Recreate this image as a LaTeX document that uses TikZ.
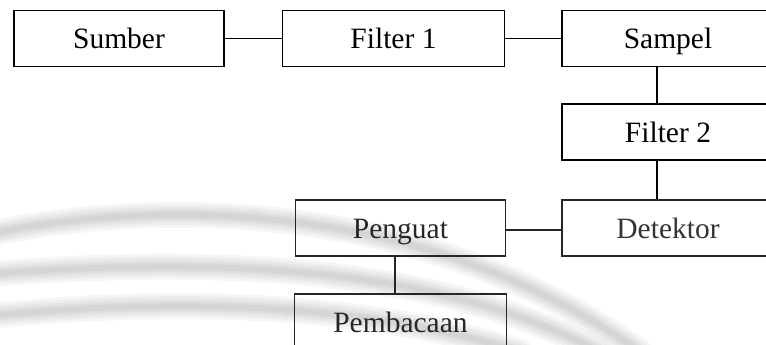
\documentclass[tikz,border=0pt]{standalone}
\usepackage{fontspec}
\setmainfont{Liberation Serif}
\begin{document}
\begin{tikzpicture}[x=1pt,y=-1pt,
  block/.style={draw, line width=1.8pt, inner sep=0pt,
    minimum width=#1, minimum height=56pt,
    text height=20pt, text depth=0pt,
    font=\fontsize{29.5pt}{34pt}\selectfont},
  block/.default=211pt,
  link/.style={line width=1.8pt},
  swoosh/.style={line cap=round, draw=black, opacity=0.035}]
\useasboundingbox (0,0) rectangle (766,345);

% faint background swooshes
\foreach \w in {26,20,15,10,6}{
  \draw[swoosh, line width=\w pt] (-10,234) .. controls (150,200) and (420,196) .. (640,352);
  \draw[swoosh, line width=\w pt] (-10,274) .. controls (200,258) and (430,262) .. (600,352);
  \draw[swoosh, line width=\w pt] (-10,316) .. controls (150,300) and (350,298) .. (520,352);
}

% blocks
\node[block=210pt] (sumber)  at (119,38.5)   {Sumber};
\node[block=222pt] (filtera) at (393.5,38.5) {Filter 1};
\node[block=212pt] (sampel)  at (668,38.5)   {Sampel};
\node[block=212pt] (filterb) at (668,132)    {Filter 2};
\node[block=212pt, draw=black!85, text=black!80] (detektor) at (668,228) {Detektor};
\node[block=210pt, draw=black!85, text=black!85] (penguat)  at (400.5,228) {Penguat};
\node[block=212pt, draw=black!85, text=black!85] (pembacaan) at (400.5,322) {Pembacaan};

% connectors
\draw[link] (sumber.east) -- (filtera.west);
\draw[link] (filtera.east) -- (sampel.west);
\draw[link] ([xshift=-11pt]sampel.south) -- ([xshift=-11pt]filterb.north);
\draw[link] ([xshift=-11pt]filterb.south) -- ([xshift=-11pt]detektor.north);
\draw[link, draw=black!85] ([yshift=-2pt]penguat.east) -- ([yshift=-2pt]detektor.west);
\draw[link, draw=black!85] ([xshift=-5.5pt]penguat.south) -- ([xshift=-5.5pt]pembacaan.north);
\end{tikzpicture}
\end{document}
